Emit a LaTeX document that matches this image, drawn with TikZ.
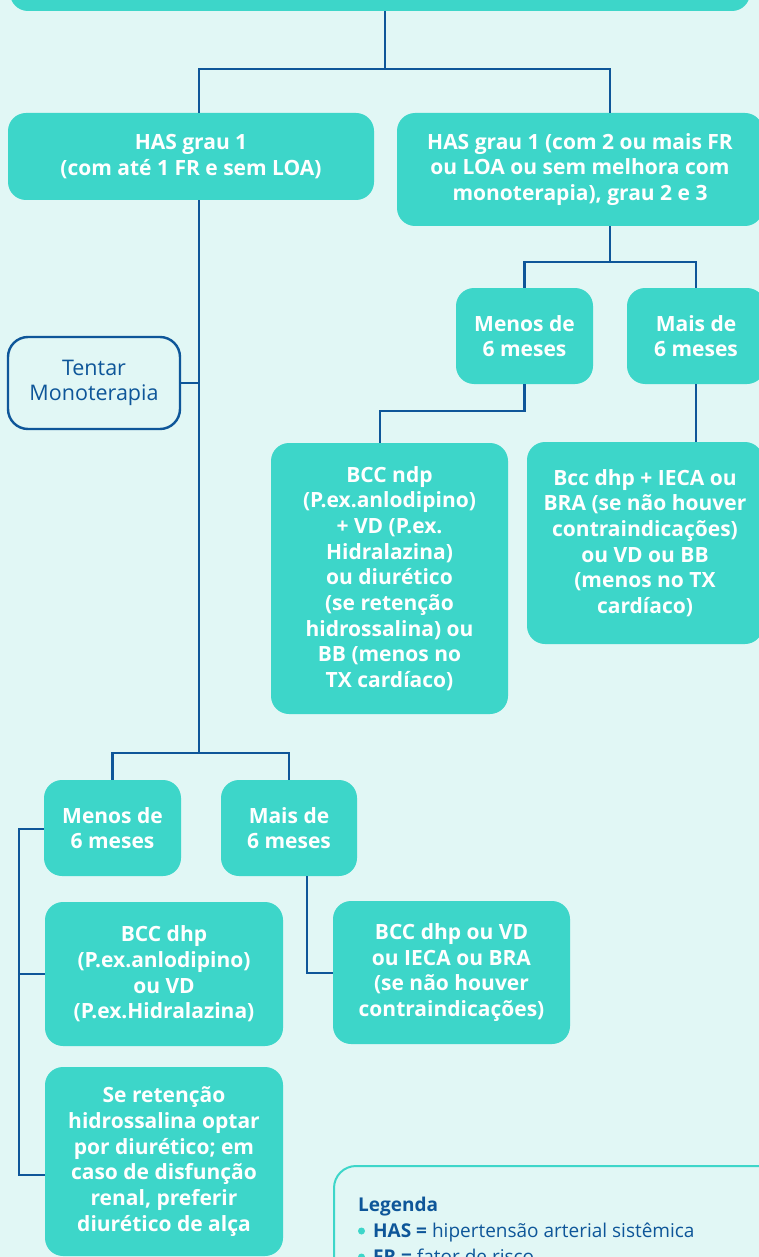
\documentclass[tikz,border=0pt]{standalone}
\usepackage{fontspec}
\setmainfont{Open Sans}
\definecolor{bg}{HTML}{E1F7F5}
\definecolor{tq}{HTML}{3DD6C9}
\definecolor{navy}{HTML}{0E5699}
\begin{document}
\begin{tikzpicture}[x=1pt,y=-1pt,
  box/.style={fill=tq, rounded corners=18pt, inner sep=0pt, align=center, text=white,
    font=\fontsize{21}{25.7}\selectfont\bfseries},
  outlinebox/.style={draw=navy, line width=2.4pt, fill=bg, rounded corners=20pt, inner sep=0pt,
    align=center, text=navy, font=\fontsize{21.5}{25}\selectfont},
  conn/.style={draw=navy, line width=2.4pt},
  legtxt/.style={anchor=base west, inner sep=0pt, text=navy, font=\fontsize{19}{26}\selectfont},
  dot/.style={circle, fill=tq, inner sep=0pt, minimum size=7pt}
]
\useasboundingbox (0,0) rectangle (759,1257);
\clip (0,0) rectangle (759,1257);
\fill[bg] (0,0) rectangle (759,1257);

% boxes
\node[box, minimum width=740, minimum height=51] (top) at (380,-14.5) {};
\node[box, minimum width=366, minimum height=87] (A) at (191,156.5) {HAS grau 1\\(com até 1 FR e sem LOA)};
\node[box, minimum width=366, minimum height=113] (B) at (580,169.5) {HAS grau 1 (com 2 ou mais FR\\ou LOA ou sem melhora com\\monoterapia), grau 2 e 3};
\node[outlinebox, minimum width=172, minimum height=92] (T) at (94,383) {Tentar\\Monoterapia};
\node[box, minimum width=137, minimum height=96] (M1) at (524.5,336) {Menos de\\6 meses};
\node[box, minimum width=138, minimum height=96] (M2) at (696,336) {Mais de\\6 meses};
\node[box, minimum width=237, minimum height=271] (R1) at (389.5,578.5) {BCC ndp\\(P.ex.anlodipino)\\+ VD (P.ex.\\Hidralazina)\\ou diurético\\(se retenção\\hidrossalina) ou\\BB (menos no\\TX cardíaco)};
\node[box, minimum width=236, minimum height=202] (R2) at (645,543) {Bcc dhp + IECA ou\\BRA (se não houver\\contraindicações)\\ou VD ou BB\\(menos no TX\\cardíaco)};
\node[box, minimum width=137, minimum height=96] (M3) at (112.5,828) {Menos de\\6 meses};
\node[box, minimum width=136, minimum height=96] (M4) at (289,828) {Mais de\\6 meses};
\node[box, minimum width=238, minimum height=144] (L1) at (164,974) {BCC dhp\\(P.ex.anlodipino)\\ou VD\\(P.ex.Hidralazina)};
\node[box, minimum width=238, minimum height=189] (L2) at (164,1161.5) {Se retenção\\hidrossalina optar\\por diurético; em\\caso de disfunção\\renal, preferir\\diurético de alça};
\node[box, minimum width=237, minimum height=143] (L3) at (451.5,972.5) {BCC dhp ou VD\\ou IECA ou BRA\\(se não houver\\contraindicações)};

% legend
\node[draw=tq, line width=2pt, fill=bg, rounded corners=22pt, minimum width=460, minimum height=160, anchor=north west, inner sep=0pt] (leg) at (333,1165) {};
\node[legtxt] (leg1) at (358,1211) {\bfseries Legenda};
\node[dot] (d2) at (361.5,1231) {};
\node[legtxt] (leg2) at (373,1237) {\textbf{HAS =} hipertensão arterial sistêmica};
\node[dot] (d3) at (361.5,1257) {};
\node[legtxt] (leg3) at (373,1263) {\textbf{FR =} fator de risco};

% junction coordinates
\coordinate (j1) at (385,69);
\coordinate (jA) at (199,69);
\coordinate (jB) at (610,69);
\coordinate (j2) at (199,753);
\coordinate (j3) at (610,262);
\coordinate (k4) at (380,411);
\coordinate (k5) at (19,829);
\coordinate (k6) at (19,1175);
\coordinate (k7) at (307,973);

% connectors
\draw[conn] (top.south -| j1) -- (j1);
\draw[conn] (A.north -| jA) -- (jA) -- (jB) -- (B.north -| jB);
\draw[conn] (A.south -| jA) -- (j2);
\draw[conn] (T.east) -- (T.east -| jA);
\draw[conn] (M3.north) |- (j2) -| (M4.north);
\draw[conn] (B.south -| j3) -- (j3);
\draw[conn] (M1.north) |- (j3) -| (M2.north);
\draw[conn] (M1.south) |- (k4) -- (R1.north -| k4);
\draw[conn] (M2.south) -- (R2.north -| M2.south);
\draw[conn] (M3.west |- k5) -| (k6) -- (k6 -| L2.west);
\draw[conn] (L1.west -| k5) -- (L1.west);
\draw[conn] (M4.south -| k7) -- (k7) -- (k7 -| L3.west);
\end{tikzpicture}
\end{document}
